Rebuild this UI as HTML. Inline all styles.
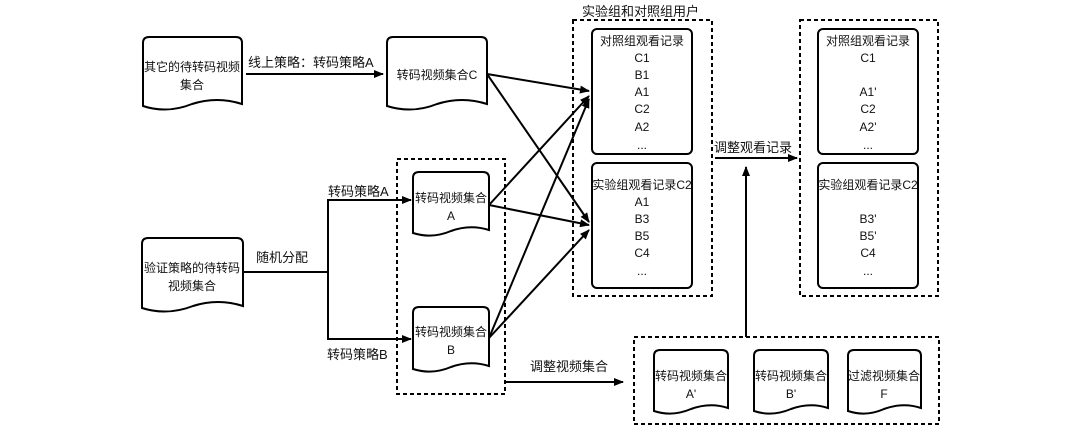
<!DOCTYPE html>
<html><head><meta charset="utf-8"><style>
body{margin:0;background:#fff}
svg{display:block}
text{font-family:"Liberation Sans","Noto Sans CJK SC",sans-serif;fill:#111}
</style></head><body>
<svg width="1080" height="435" viewBox="0 0 1080 435" xmlns="http://www.w3.org/2000/svg">
<defs>
<marker id="ah" markerWidth="10" markerHeight="8" refX="9" refY="4" orient="auto" markerUnits="userSpaceOnUse">
<path d="M0,0 L10,4 L0,8 Z" fill="#000"/></marker>
</defs>
<g fill="#fff" stroke="#000" stroke-width="2">
<!-- documents -->
<path d="M143,43 Q143,37 149,37 L236,37 Q242,37 242,43 L242,104 Q217,96 192,104 Q167,114 143,106 Z"/>
<path d="M387,43 Q387,37 393,37 L481,37 Q487,37 487,43 L487,104 Q462,96 437,104 Q412,114 387,106 Z"/>
<path d="M142,244 Q142,238 148,238 L237,238 Q243,238 243,244 L243,306 Q218,298 193,306 Q167,316 142,308 Z"/>
<path d="M413,178 Q413,172 419,172 L483,172 Q489,172 489,178 L489,230 Q470,224 451,231 Q432,239 413,233 Z"/>
<path d="M413,313 Q413,307 419,307 L483,307 Q489,307 489,313 L489,366 Q470,360 451,367 Q432,375 413,369 Z"/>
<path d="M654,356 Q654,350 660,350 L722,350 Q728,350 728,356 L728,408 Q710,402 691,409 Q672,417 654,411 Z"/>
<path d="M754,356 Q754,350 760,350 L822,350 Q828,350 828,356 L828,408 Q810,402 791,409 Q772,417 754,411 Z"/>
<path d="M848,356 Q848,350 854,350 L915,350 Q921,350 921,356 L921,408 Q903,402 884,409 Q866,417 848,411 Z"/>
<!-- record boxes -->
<rect x="592" y="29" width="100" height="125" rx="5"/>
<rect x="592" y="163" width="100" height="125" rx="5"/>
<rect x="818" y="29" width="100" height="125" rx="5"/>
<rect x="818" y="163" width="100" height="125" rx="5"/>
</g>
<g fill="none" stroke="#000" stroke-width="2" stroke-dasharray="4,3">
<rect x="397" y="159" width="108" height="235"/>
<rect x="573" y="20" width="139" height="276"/>
<rect x="800" y="20" width="138" height="276"/>
<rect x="634" y="337" width="305" height="87"/>
</g>
<g fill="none" stroke="#000" stroke-width="2" marker-end="url(#ah)">
<line x1="246" y1="74" x2="383" y2="74"/>
<path d="M243,272 L328,272 L328,200 L411,200"/>
<path d="M328,272 L328,339 L411,339" marker-end="url(#ah)"/>
<line x1="506" y1="382" x2="623" y2="382"/>
<line x1="715" y1="158" x2="797" y2="158"/>
<line x1="746" y1="337" x2="746" y2="167"/>
<line x1="487" y1="74" x2="589" y2="91"/>
<line x1="487" y1="74" x2="589" y2="222"/>
<line x1="489" y1="205" x2="589" y2="96"/>
<line x1="489" y1="205" x2="589" y2="225"/>
<line x1="489" y1="338" x2="589" y2="99"/>
<line x1="489" y1="338" x2="589" y2="230"/>
</g>
<g font-size="12" text-anchor="middle">
<text x="192" y="71">其它的待转码视频</text><text x="192" y="89">集合</text>
<text x="437" y="79">转码视频集合C</text>
<text x="192" y="272">验证策略的待转码</text><text x="192" y="290">视频集合</text>
<text x="451" y="202">转码视频集合</text><text x="451" y="220">A</text>
<text x="451" y="336">转码视频集合</text><text x="451" y="354">B</text>
<text x="691" y="380">转码视频集合</text><text x="691" y="398">A'</text>
<text x="791" y="380">转码视频集合</text><text x="791" y="398">B'</text>
<text x="884" y="380">过滤视频集合</text><text x="884" y="398">F</text>
</g>
<g font-size="13">
<text x="248" y="67">线上策略：转码策略A</text>
<text x="256" y="262">随机分配</text>
<text x="328" y="196">转码策略A</text>
<text x="327" y="359">转码策略B</text>
<text x="530" y="371">调整视频集合</text>
<text x="714" y="152">调整观看记录</text>
<text x="582" y="16">实验组和对照组用户</text>
</g>
<g font-size="12" text-anchor="middle">
<text x="642" y="45">对照组观看记录</text>
<text x="642" y="62">C1</text><text x="642" y="79">B1</text><text x="642" y="96">A1</text>
<text x="642" y="113">C2</text><text x="642" y="131">A2</text><text x="642" y="149">...</text>
<text x="642" y="189">实验组观看记录C2</text>
<text x="642" y="206">A1</text><text x="642" y="223">B3</text><text x="642" y="240">B5</text>
<text x="642" y="257">C4</text><text x="642" y="275">...</text>
<text x="868" y="45">对照组观看记录</text>
<text x="868" y="62">C1</text><text x="868" y="96">A1'</text>
<text x="868" y="113">C2</text><text x="868" y="131">A2'</text><text x="868" y="149">...</text>
<text x="868" y="189">实验组观看记录C2</text>
<text x="868" y="223">B3'</text><text x="868" y="240">B5'</text>
<text x="868" y="257">C4</text><text x="868" y="275">...</text>
</g>
</svg>
</body></html>
